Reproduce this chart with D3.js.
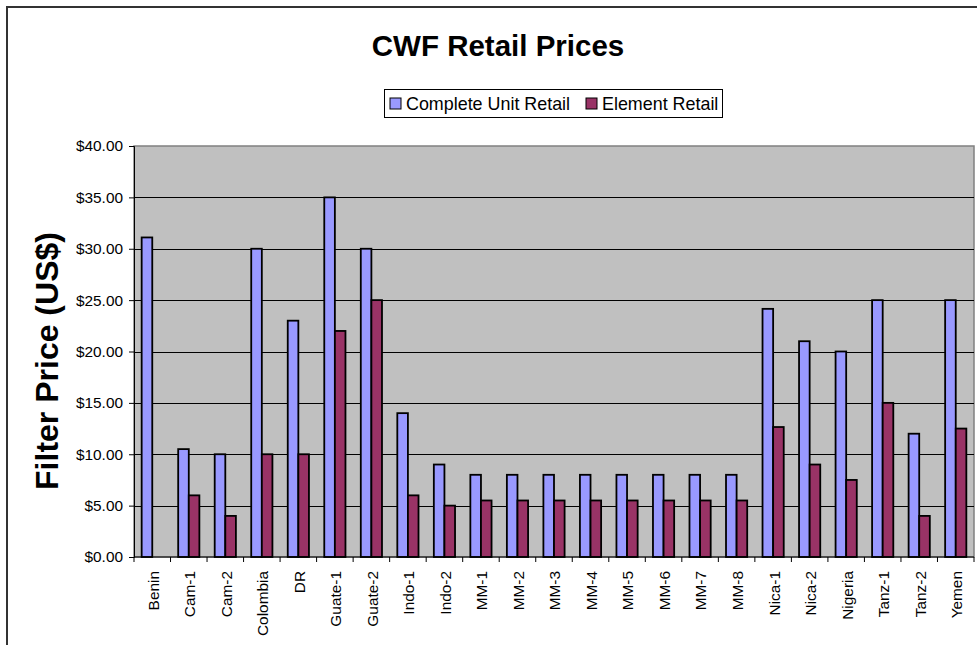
<!DOCTYPE html>
<html>
<head>
<meta charset="utf-8">
<script src="https://cdn.jsdelivr.net/npm/d3@7/dist/d3.min.js"></script>
<style>
  body { margin: 0; background: #fff; }
  svg { display: block; font-family: Arial, 'Liberation Sans', sans-serif; }
</style>
</head>
<body>
<div id="chart"></div>
<script>
// values
const categories = ['Benin', 'Cam-1', 'Cam-2', 'Colombia', 'DR', 'Guate-1', 'Guate-2',
  'Indo-1', 'Indo-2', 'MM-1', 'MM-2', 'MM-3', 'MM-4', 'MM-5', 'MM-6', 'MM-7', 'MM-8',
  'Nica-1', 'Nica-2', 'Nigeria', 'Tanz-1', 'Tanz-2', 'Yemen'];
const completeUnit = [31.1, 10.5, 10, 30, 23, 35, 30, 14, 9, 8, 8, 8, 8, 8, 8, 8, 8,
  24.15, 21, 20, 25, 12, 25];
const element = [0, 6, 4, 10, 10, 22, 25, 6, 5, 5.5, 5.5, 5.5, 5.5, 5.5, 5.5, 5.5, 5.5,
  12.65, 9, 7.5, 15, 4, 12.5];
const seriesNames = ['Complete Unit Retail', 'Element Retail'];
const seriesColors = ['#9999FF', '#993366'];
const yTicks = [0, 5, 10, 15, 20, 25, 30, 35, 40];

const width = 977, height = 645;
const plot = { left: 134, top: 146, right: 974, bottom: 557 };

const svg = d3.select('#chart').append('svg')
  .attr('width', width)
  .attr('height', height);

// outer chart border (cut off at right / bottom like the reference)
svg.append('rect')
  .attr('x', 7).attr('y', 7)
  .attr('width', width + 20).attr('height', height + 20)
  .attr('fill', 'none')
  .attr('stroke', '#333')
  .attr('stroke-width', 2);

const x = d3.scaleBand()
  .domain(categories)
  .range([plot.left, plot.right])
  .padding(0);

const barW = 10.6;
const xSub = d3.scaleBand()
  .domain(seriesNames)
  .range([(x.bandwidth() - 2 * barW) / 2, (x.bandwidth() + 2 * barW) / 2]);

const y = d3.scaleLinear()
  .domain([0, 40])
  .range([plot.bottom, plot.top]);

// plot area
svg.append('rect')
  .attr('x', plot.left).attr('y', plot.top)
  .attr('width', plot.right - plot.left)
  .attr('height', plot.bottom - plot.top)
  .attr('fill', '#C0C0C0')
  .attr('stroke', '#808080')
  .attr('stroke-width', 1.5);

// gridlines
svg.append('g')
  .selectAll('line')
  .data(yTicks.filter(d => d > 0 && d < 40))
  .join('line')
  .attr('x1', plot.left).attr('x2', plot.right)
  .attr('y1', d => Math.round(y(d)) + 0.5)
  .attr('y2', d => Math.round(y(d)) + 0.5)
  .attr('stroke', '#000')
  .attr('stroke-width', 1);

// bars
const data = categories.map((c, i) => ({ cat: c, vals: [completeUnit[i], element[i]] }));

svg.append('g')
  .selectAll('g')
  .data(data)
  .join('g')
  .attr('transform', d => `translate(${x(d.cat)},0)`)
  .selectAll('rect')
  .data(d => d.vals.map((v, j) => ({ name: seriesNames[j], v, color: seriesColors[j] })))
  .join('rect')
  .filter(d => d.v > 0)
  .attr('x', d => xSub(d.name))
  .attr('width', xSub.bandwidth())
  .attr('y', d => y(d.v))
  .attr('height', d => y(0) - y(d.v))
  .attr('fill', d => d.color)
  .attr('stroke', '#000')
  .attr('stroke-width', 1.8);

// y axis
const yAxis = svg.append('g')
  .attr('transform', `translate(${plot.left},0)`)
  .call(d3.axisLeft(y).tickValues(yTicks).tickSize(5).tickPadding(6)
    .tickFormat(d => '$' + d3.format('.2f')(d)));
yAxis.select('.domain').attr('stroke', '#000');
yAxis.selectAll('text')
  .attr('font-size', 15.4)
  .attr('font-family', "Arial, 'Liberation Sans', sans-serif")
  .attr('fill', '#000');

// x axis: line, ticks between categories, rotated labels
const xg = svg.append('g');
xg.append('line')
  .attr('x1', plot.left).attr('x2', plot.right)
  .attr('y1', plot.bottom).attr('y2', plot.bottom)
  .attr('stroke', '#000');
xg.selectAll('line.tick')
  .data(categories.map(c => x(c)).concat([plot.right]))
  .join('line')
  .attr('class', 'tick')
  .attr('x1', d => d).attr('x2', d => d)
  .attr('y1', plot.bottom).attr('y2', plot.bottom + 5)
  .attr('stroke', '#000');
xg.selectAll('text')
  .data(categories)
  .join('text')
  .attr('transform', d => `translate(${x(d) + x.bandwidth() / 2 + 1},${plot.bottom + 14}) rotate(-90)`)
  .attr('text-anchor', 'end')
  .attr('dy', '0.35em')
  .attr('font-size', 15.4)
  .text(d => d);

// title
svg.append('text')
  .attr('x', 498).attr('y', 56)
  .attr('text-anchor', 'middle')
  .attr('font-size', 29.5)
  .attr('font-weight', 'bold')
  .text('CWF Retail Prices');

// y axis title
svg.append('text')
  .attr('transform', 'translate(58,361) rotate(-90)')
  .attr('text-anchor', 'middle')
  .attr('font-size', 32)
  .attr('font-weight', 'bold')
  .text('Filter Price (US$)');

// legend
const legend = svg.append('g');
legend.append('rect')
  .attr('x', 384.5).attr('y', 89.5)
  .attr('width', 338).attr('height', 28)
  .attr('fill', '#fff')
  .attr('stroke', '#000');
const legendX = [390, 586];
const items = legend.selectAll('g.item')
  .data(seriesNames)
  .join('g')
  .attr('class', 'item')
  .attr('transform', (d, i) => `translate(${legendX[i]},103.5)`);
items.append('rect')
  .attr('x', 0).attr('y', -5.5)
  .attr('width', 11).attr('height', 11)
  .attr('fill', (d, i) => seriesColors[i])
  .attr('stroke', '#000');
items.append('text')
  .attr('x', 16)
  .attr('dy', '0.35em')
  .attr('font-size', 17.9)
  .text(d => d);
</script>
</body>
</html>
